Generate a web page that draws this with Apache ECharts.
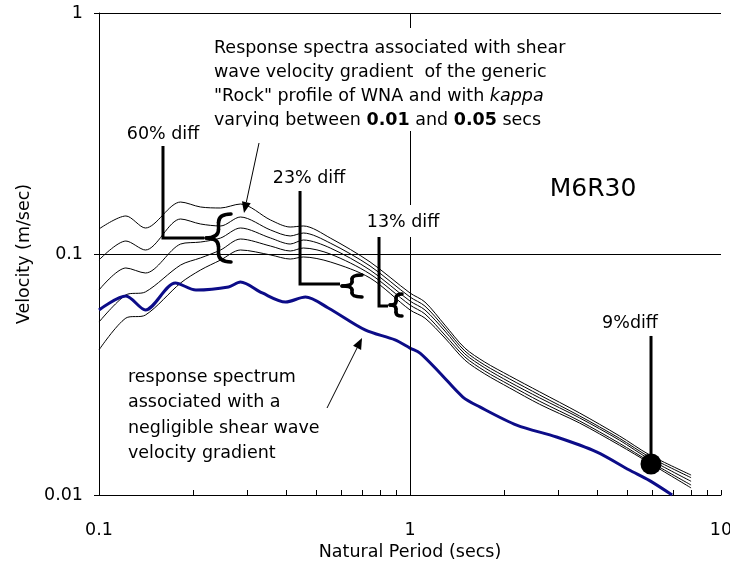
<!DOCTYPE html>
<html><head><meta charset="utf-8">
<script src="https://cdn.jsdelivr.net/npm/echarts@6/dist/echarts.min.js"></script>
<style>html,body{margin:0;padding:0;background:#fff}#c{width:730px;height:572px}</style>
</head><body><div id="c"></div>
<script>
// ---- data ----
const periods = [0.1, 0.122, 0.141, 0.183, 0.212, 0.246, 0.285, 0.356, 0.412, 0.454, 0.554, 0.744, 1.0, 1.117, 1.295, 1.501, 1.740, 2.092, 2.61, 3.507, 4.711, 5.878, 8.013];
const kappa001 = [0.127, 0.1438, 0.1282, 0.1643, 0.1567, 0.1552, 0.1612, 0.1384, 0.1294, 0.1307, 0.1165, 0.0927, 0.0689, 0.0632, 0.0507, 0.0407, 0.0356, 0.0312, 0.0268, 0.0219, 0.0176, 0.0147, 0.0121];
const kappa002 = [0.0944, 0.1132, 0.1039, 0.1397, 0.1332, 0.1307, 0.1424, 0.1258, 0.1188, 0.1222, 0.1110, 0.0892, 0.0663, 0.0608, 0.0493, 0.0396, 0.0346, 0.0303, 0.0260, 0.0213, 0.0172, 0.0144, 0.0118];
const kappa003 = [0.0709, 0.0875, 0.0834, 0.1100, 0.1121, 0.1165, 0.1282, 0.1165, 0.1100, 0.1143, 0.1059, 0.0858, 0.0638, 0.0586, 0.0479, 0.0385, 0.0337, 0.0294, 0.0253, 0.0209, 0.0169, 0.0141, 0.0114];
const kappa004 = [0.0522, 0.0676, 0.0696, 0.0900, 0.0963, 0.1039, 0.1154, 0.1079, 0.1029, 0.1059, 0.1000, 0.0826, 0.0614, 0.0564, 0.0461, 0.0374, 0.0327, 0.0286, 0.0245, 0.0203, 0.0164, 0.0138, 0.0110];
const kappa005 = [0.0400, 0.0542, 0.0558, 0.0758, 0.0858, 0.0944, 0.1039, 0.0991, 0.0953, 0.0972, 0.0927, 0.0795, 0.0586, 0.0542, 0.0448, 0.0363, 0.0318, 0.0278, 0.0238, 0.0199, 0.0161, 0.0136, 0.0107];
const noGradPeriods = [0.1, 0.122, 0.141, 0.176, 0.205, 0.261, 0.285, 0.335, 0.398, 0.461, 0.546, 0.717, 0.895, 1.0, 1.077, 1.248, 1.479, 1.676, 2.203, 2.959, 3.976, 5.072, 5.878, 6.965];
const noGradVel = [0.0586, 0.0669, 0.0586, 0.0758, 0.0709, 0.0730, 0.0765, 0.0689, 0.0632, 0.0663, 0.0597, 0.0484, 0.0440, 0.0407, 0.0388, 0.0321, 0.0255, 0.0232, 0.0195, 0.0174, 0.0151, 0.0127, 0.0115, 0.0100];
const xTickLabels = ['0.1', '1', '10'];
const yTickLabels = ['0.01', '0.1', '1'];
const minorTicks = [0.2, 0.3, 0.4, 0.5, 0.6, 0.7, 0.8, 0.9, 2, 3, 4, 5, 6, 7, 8, 9];
const markedPoint = [5.956, 0.01345];
const xMin = 0.1, xMax = 10, yMin = 0.01, yMax = 1;

const FONT = '"DejaVu Sans", "Liberation Sans", Arial, sans-serif';
const chart = echarts.init(document.getElementById('c'), null, {renderer: 'canvas'});

function blackLine(name, vals) {
  return {
    name, type: 'line', data: periods.map((t, i) => [t, vals[i]]),
    showSymbol: false, symbol: 'none', smooth: 0.3, silent: true,
    lineStyle: {color: '#000', width: 1}, z: 3
  };
}

const option = {
  animation: false,
  backgroundColor: '#fff',
  grid: {left: 99, right: 9, top: 13, bottom: 77, containLabel: false, outerBoundsMode: 'none'},
  xAxis: {
    type: 'log', logBase: 10, min: xMin, max: xMax,
    name: 'Natural Period (secs)', nameLocation: 'middle', nameGap: 46,
    nameTextStyle: {color: '#000', fontSize: 17.5, fontFamily: FONT},
    axisLine: {show: true, lineStyle: {color: '#000', width: 1}},
    axisTick: {show: true, inside: true, length: 5, lineStyle: {color: '#000', width: 1}},
    axisLabel: {color: '#000', fontSize: 17.5, fontFamily: FONT, margin: 26,
      formatter: v => xTickLabels.find(s => Math.abs(parseFloat(s) - v) < 1e-9 * Math.max(1, v)) || ''},
    splitLine: {show: false}, minorTick: {show: false}
  },
  yAxis: {
    type: 'log', logBase: 10, min: yMin, max: yMax,
    name: 'Velocity (m/sec)', nameLocation: 'middle', nameGap: 66, nameRotate: 90,
    nameTextStyle: {color: '#000', fontSize: 17.5, fontFamily: FONT},
    axisLine: {show: true, lineStyle: {color: '#000', width: 1}},
    axisTick: {show: true, inside: false, length: 5, lineStyle: {color: '#000', width: 1}},
    axisLabel: {color: '#000', fontSize: 17.5, fontFamily: FONT, margin: 16,
      formatter: v => yTickLabels.find(s => Math.abs(parseFloat(s) - v) < 1e-9) || ''},
    splitLine: {show: false}
  },
  series: [
    Object.assign(blackLine('kappa 0.01', kappa001), {
      markLine: {
        silent: true, symbol: 'none', label: {show: false},
        lineStyle: {color: '#000', width: 1, type: 'solid'},
        emphasis: {disabled: true},
        data: [{xAxis: 1}, {yAxis: 0.1}, {yAxis: 1}]
      }
    }),
    blackLine('kappa 0.02', kappa002),
    blackLine('kappa 0.03', kappa003),
    blackLine('kappa 0.04', kappa004),
    blackLine('kappa 0.05', kappa005),
    {
      name: 'negligible gradient', type: 'line',
      data: noGradPeriods.map((t, i) => [t, noGradVel[i]]),
      showSymbol: false, symbol: 'none', smooth: 0.3, silent: true,
      lineStyle: {color: '#0c0c88', width: 3}, z: 4
    },
    {
      name: 'marked', type: 'scatter', data: [markedPoint], symbol: 'circle', symbolSize: 21,
      itemStyle: {color: '#000', opacity: 1}, silent: true, z: 6
    },
    {
      name: 'minor ticks', type: 'custom', silent: true, clip: false,
      data: minorTicks.map(t => [t, yMin]),
      renderItem: (params, api) => {
        const p = api.coord([api.value(0), api.value(1)]);
        const x = Math.round(p[0]) + 0.5;
        return {type: 'line', shape: {x1: x, y1: p[1], x2: x, y2: p[1] - 5},
          style: {stroke: '#000', lineWidth: 1}};
      }
    }
  ]
};
chart.setOption(option);

// ---- annotations, anchored in data coordinates ----
const P = (d) => chart.convertToPixel({gridIndex: 0}, d);
const callouts = [
  {label: '60% diff', top: [0.1606, 0.2806], corner: [0.1606, 0.1165], end: [0.2176, 0.1165], dx: 0, dy: -12, bw: 25, bh: 24, bdy: 0},
  {label: '23% diff', top: [0.443, 0.1826], corner: [0.443, 0.0751], end: [0.5956, 0.0751], dx: 9, dy: -13, bw: 20, bh: 11, bdy: 2},
  {label: '13% diff', top: [0.795, 0.1176], corner: [0.795, 0.0608], end: [0.8497, 0.0608], dx: 24, dy: -15, bw: 12, bh: 11, bdy: -1, box: true}
];
const g = [];
const BRACE = {stroke: '#000', lineWidth: 3.5, fill: null, lineCap: 'round'};
function brace(cx, cy, w, h) {
  const sx = cx + w * 0.5, tx = cx + w, r = Math.min(w * 0.45, h * 0.35);
  const q = (x1, y1, cpx, cpy, x2, y2) => g.push({type: 'bezierCurve', z: 101,
    shape: {x1, y1, cpx1: cpx, cpy1: cpy, x2, y2}, style: BRACE});
  const l = (x1, y1, x2, y2) => g.push({type: 'line', z: 101, shape: {x1, y1, x2, y2}, style: BRACE});
  q(tx, cy - h, sx, cy - h, sx, cy - h + r);
  l(sx, cy - h + r, sx, cy - r);
  q(sx, cy - r, sx, cy, cx, cy);
  q(cx, cy, sx, cy, sx, cy + r);
  l(sx, cy + r, sx, cy + h - r);
  q(sx, cy + h - r, sx, cy + h, tx, cy + h);
}
callouts.forEach(c => {
  const t = P(c.top), k = P(c.corner), e = P(c.end);
  if (c.box) {
    g.push({type: 'rect', z: 100, shape: {x: t[0] + c.dx - 38, y: t[1] + c.dy - 17, width: 76, height: 32}, style: {fill: '#fff'}});
  }
  g.push({type: 'text', z: 101, x: t[0] + c.dx, y: t[1] + c.dy,
    style: {text: c.label, fill: '#000', fontSize: 17.5, fontFamily: FONT, align: 'center', verticalAlign: 'middle'}});
  g.push({type: 'polyline', z: 101, shape: {points: [t, k, e]},
    style: {stroke: '#000', lineWidth: 3, fill: null, lineJoin: 'miter'}});
  brace(e[0] + 2, e[1] + c.bdy, c.bw, c.bh);
});
// 9% diff pointer
{
  const top = P([markedPoint[0], 0.0457]), dot = P(markedPoint);
  g.push({type: 'line', z: 101, shape: {x1: top[0], y1: top[1], x2: dot[0], y2: dot[1]}, style: {stroke: '#000', lineWidth: 3}});
  g.push({type: 'text', z: 101, x: top[0] - 21, y: top[1] - 13,
    style: {text: '9%diff', fill: '#000', fontSize: 17.5, fontFamily: FONT, align: 'center', verticalAlign: 'middle'}});
}
// arrows
function arrow(fromD, toD) {
  const a = P(fromD), b = P(toD);
  const dx = b[0] - a[0], dy = b[1] - a[1], L = Math.hypot(dx, dy);
  const ux = dx / L, uy = dy / L, nx = -uy, ny = ux, hl = 11, hw = 4.5;
  const base = [b[0] - ux * hl, b[1] - uy * hl];
  g.push({type: 'line', z: 101, shape: {x1: a[0], y1: a[1], x2: base[0], y2: base[1]}, style: {stroke: '#000', lineWidth: 1}});
  g.push({type: 'polygon', z: 101, shape: {points: [b, [base[0] + nx * hw, base[1] + ny * hw], [base[0] - nx * hw, base[1] - ny * hw]]},
    style: {fill: '#000'}});
}
arrow([0.327, 0.2888], [0.2926, 0.1480]);
arrow([0.541, 0.02296], [0.701, 0.0448]);

// free text blocks
g.push({type: 'rect', z: 100, shape: {x: 206, y: 28, width: 372, height: 103}, style: {fill: '#fff'}});
const rich = {
  n: {fontSize: 17.5, fontFamily: FONT, lineHeight: 24, fill: '#000'},
  i: {fontSize: 17.5, fontFamily: FONT, lineHeight: 24, fontStyle: 'italic', fill: '#000'},
  b: {fontSize: 17.5, fontFamily: FONT, lineHeight: 24, fontWeight: 'bold', fill: '#000'}
};
g.push({type: 'text', z: 101, x: 214, y: 36, style: {
  text: '{n|Response spectra associated with shear}\n{n|wave velocity gradient  of the generic}\n{n|"Rock" profile of WNA and with }{i|kappa}\n{n|varying between }{b|0.01}{n| and }{b|0.05}{n| secs}',
  rich, align: 'left', verticalAlign: 'top'}});
g.push({type: 'rect', z: 102, shape: {x: 206, y: 126.5, width: 372, height: 4.5}, style: {fill: '#fff'}});

g.push({type: 'text', z: 101, x: 128, y: 365, style: {
  text: 'response spectrum\nassociated with a\nnegligible shear wave\nvelocity gradient',
  fill: '#000', fontSize: 17.5, fontFamily: FONT, lineHeight: 25.3, align: 'left', verticalAlign: 'top'}});
g.push({type: 'text', z: 101, x: 593, y: 189, style: {
  text: 'M6R30', fill: '#000', fontSize: 25, fontFamily: FONT, align: 'center', verticalAlign: 'middle'}});

chart.setOption({graphic: g});
</script></body></html>
